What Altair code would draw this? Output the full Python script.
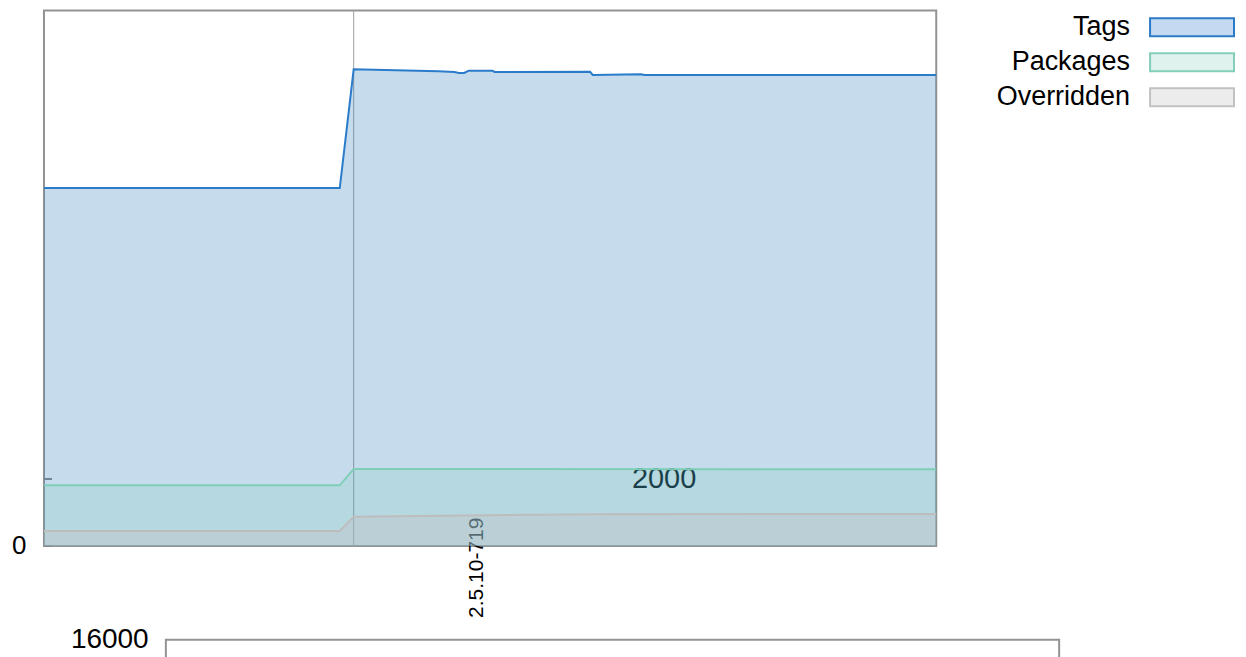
import altair as alt
import pandas as pd

FONT = "Liberation Sans"

series_names = ["Tags", "Packages", "Overridden"]

# x is a build index (0..100 across the plot)
tags_x = [0, 33.15, 34.71, 44.2, 46.0, 46.5, 47.1, 47.6, 50.3, 50.5, 61.2, 61.5, 66.9, 67.3, 100]
tags_y = [10690, 10690, 14240, 14180, 14160, 14130, 14130, 14200, 14200, 14160, 14165, 14070, 14090, 14070, 14070]

pkg_x = [0, 33.15, 34.71, 100]
pkg_y = [1810, 1810, 2300, 2290]

ovr_x = [0, 33.15, 34.71, 62, 100]
ovr_y = [450, 450, 870, 950, 955]

version_x = [34.71]
version_label = ["2.5.10-719"]

y_tick_values = [0, 2000]
top_axis_labels = [0]
stray_label_values = [2000]
stray_label_x = [69.5]
second_axis_labels = [16000]

x_domain = [0, 100]
y_domain = [0, 16000]

line_colors = ["#2a7ccb", "#7fcfb8", "#bdbdbd"]
area_colors = ["#3182bd", "#66c2a5", "#c3c3c3"]
area_opacity = [0.28, 0.17, 0.35]
legend_fill = ["#c5daf0", "#dff2ed", "#ececec"]
legend_stroke = ["#2b7bc9", "#83cfbb", "#c2c2c2"]


def frame(xs, ys):
    return pd.DataFrame({"x": xs, "value": ys})


series_frames = [frame(tags_x, tags_y), frame(pkg_x, pkg_y), frame(ovr_x, ovr_y)]

X = alt.X("x:Q", scale=alt.Scale(domain=x_domain, nice=False, zero=False), axis=None)


def y_enc(axis):
    return alt.Y("value:Q", scale=alt.Scale(domain=y_domain, nice=False), axis=axis)


top_axis = alt.Axis(values=top_axis_labels, ticks=False, domain=False, grid=False,
                    labelFontSize=26, labelPadding=18, labelColor="#000000",
                    labelFont=FONT, title=None, format="d")

second_axis = alt.Axis(values=second_axis_labels, ticks=False, domain=False, grid=False,
                       labelFontSize=28, labelPadding=17.7, labelColor="#000000",
                       labelFont=FONT, title=None, format="d")


def series_layers(axis):
    areas = []
    lines = []
    for i, df in enumerate(series_frames):
        areas.append(
            alt.Chart(df).mark_area(color=area_colors[i], opacity=area_opacity[i])
            .encode(x=X, y=y_enc(axis if i == 0 else alt.Undefined))
        )
        lines.append(
            alt.Chart(df).mark_line(color=line_colors[i], strokeWidth=2)
            .encode(x=X, y=y_enc(alt.Undefined))
        )
    return areas + lines


version_df = pd.DataFrame({"x": version_x, "label": version_label})
rule = alt.Chart(version_df).mark_rule(color="#a0a0a0", strokeWidth=1).encode(x=X)
version_text = alt.Chart(version_df).mark_text(
    angle=270, align="left", baseline="middle", fontSize=21, font=FONT,
    color="#000000", dy=123.5
).encode(x=X, y=alt.value(608), text="label:N")

stray_df = pd.DataFrame({"x": stray_label_x, "value": stray_label_values,
                         "label": [str(v) for v in stray_label_values]})
stray_text = alt.Chart(stray_df).mark_text(
    align="center", baseline="middle", fontSize=29, font=FONT, color="#000000"
).encode(x=X, y=y_enc(alt.Undefined), text="label:N")

tick_df = pd.DataFrame({"value": y_tick_values})
ticks = alt.Chart(tick_df).mark_rule(color="#888888", strokeWidth=2).encode(
    y=y_enc(alt.Undefined), x=alt.value(0), x2=alt.value(8)
)

main = alt.layer(rule, version_text, stray_text, ticks, *series_layers(top_axis)).properties(
    width=893, height=536,
    view=alt.ViewBackground(stroke="#939393", strokeWidth=2)
)

leg_df = pd.DataFrame({"name": series_names})
LY = alt.Y("name:N", sort=series_names, axis=None,
           scale=alt.Scale(type="point", range=[17, 87], padding=0))
leg_sym = alt.Chart(leg_df).mark_point(
    shape="M-1,-0.2143H1V0.2143H-1Z", size=7056, strokeWidth=2, opacity=1, fillOpacity=1
).encode(
    x=alt.value(241), y=LY,
    fill=alt.Fill("name:N", scale=alt.Scale(domain=series_names, range=legend_fill), legend=None),
    stroke=alt.Stroke("name:N", scale=alt.Scale(domain=series_names, range=legend_stroke), legend=None),
)
leg_txt = alt.Chart(leg_df).mark_text(
    align="right", baseline="middle", fontSize=27, font=FONT, color="#000000"
).encode(x=alt.value(179), y=LY, text="name:N")
legend = alt.layer(leg_sym, leg_txt).properties(width=284, height=110)

second = alt.layer(*series_layers(second_axis)).properties(
    width=894, height=300,
    view=alt.ViewBackground(stroke="#939393", strokeWidth=2)
)

spacer = alt.Chart(pd.DataFrame({"v": [0]})).mark_point(opacity=0).encode(
    x=alt.value(0), y=alt.value(0)
).properties(width=15, height=10)

row1 = alt.hconcat(main, legend, spacing=10)
row2 = alt.hconcat(spacer, second, spacing=10)
chart = alt.vconcat(row1, row2, spacing=6).configure_view(
    stroke=None
).properties(
    padding={"left": 2, "top": 0, "right": 0, "bottom": 0}
)

chart.save("out.html", embed_options={"renderer": "svg", "actions": False})
